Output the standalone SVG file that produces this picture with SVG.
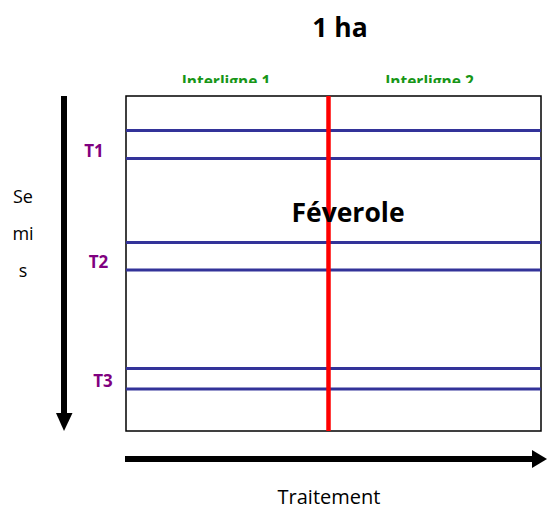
<svg xmlns="http://www.w3.org/2000/svg" width="547" height="510" viewBox="0 0 547 510">
<style>
.t{font-family:"Open Sans","Liberation Sans",Arial,sans-serif;}
.b{font-weight:bold;}
.blue{stroke:#333399;stroke-width:3;}
.tl{fill:#800080;font-size:17px;}
.il{fill:#179617;font-size:15.5px;}
</style>
<defs>
<clipPath id="cl"><rect x="0" y="0" width="547" height="83"/></clipPath>
</defs>
<rect width="547" height="510" fill="#fff"/>
<text class="t b" x="340" y="37" font-size="26.5" text-anchor="middle">1 ha</text>
<g id="labels-top" clip-path="url(#cl)">
<text class="t b il" x="226" y="87" text-anchor="middle">Interligne 1</text>
<text class="t b il" x="429.5" y="87" text-anchor="middle">Interligne 2</text>
</g>
<g id="field">
<rect x="126" y="96" width="415" height="335" fill="none" stroke="#000" stroke-width="1.5"/>
<line class="blue" x1="126" y1="130.5" x2="541" y2="130.5"/>
<line class="blue" x1="126" y1="158.5" x2="541" y2="158.5"/>
<line class="blue" x1="126" y1="242.5" x2="541" y2="242.5"/>
<line class="blue" x1="126" y1="270" x2="541" y2="270"/>
<line class="blue" x1="126" y1="368.5" x2="541" y2="368.5"/>
<line class="blue" x1="126" y1="389" x2="541" y2="389"/>
<line x1="328.5" y1="96" x2="328.5" y2="431" stroke="#ff0000" stroke-width="4.5"/>
<text class="t b" x="348" y="222" font-size="26.5" text-anchor="middle">Féverole</text>
</g>
<g id="t-labels">
<text class="t b tl" x="94" y="157" text-anchor="middle">T1</text>
<text class="t b tl" x="98.5" y="268" text-anchor="middle">T2</text>
<text class="t b tl" x="103" y="387" text-anchor="middle">T3</text>
</g>
<g id="semis">
<text class="t" x="23" y="203" font-size="18" text-anchor="middle">Se</text>
<text class="t" x="23" y="240" font-size="18" text-anchor="middle">mi</text>
<text class="t" x="23" y="277" font-size="18" text-anchor="middle">s</text>
</g>
<g id="connectors">
<line x1="64" y1="96" x2="64" y2="415" stroke="#000" stroke-width="6"/>
<polygon points="56,413 72.5,413 64,431" fill="#000"/>
<line x1="125" y1="459" x2="534" y2="459" stroke="#000" stroke-width="6"/>
<polygon points="532,450 532,468 547,459" fill="#000"/>
</g>
<text class="t" x="329" y="504" font-size="20" text-anchor="middle">Traitement</text>
</svg>
